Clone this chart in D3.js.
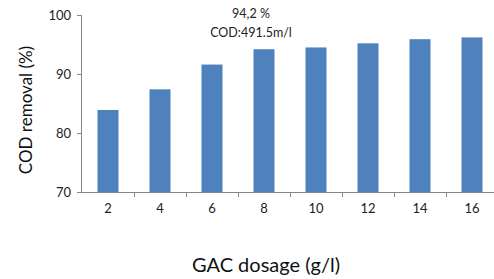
<!DOCTYPE html>
<html><head><meta charset="utf-8">
<script src="https://cdn.jsdelivr.net/npm/d3@7"></script>
<style>body{margin:0;background:#fff}svg{display:block}</style>
</head><body>
<script>
const categories = ["2","4","6","8","10","12","14","16"];
const values = [83.9, 87.4, 91.6, 94.2, 94.5, 95.2, 95.9, 96.2];
const yTicks = [70, 80, 90, 100];
const annotation = ["94,2 %", "COD:491.5m/l"];
const xTitle = "GAC dosage (g/l)";
const yTitle = "COD removal (%)";

const W = 494, H = 279;
const pLeft = 82, pRight = 498, pTop = 15, pBottom = 192;
const font = "Lato, 'Open Sans', sans-serif";
const svg = d3.select("body").append("svg").attr("width", W).attr("height", H);

const xb = d3.scaleBand().domain(categories).range([pLeft, pRight]);
const y = d3.scaleLinear().domain([70, 100]).range([pBottom, pTop]);

svg.selectAll("rect.bar").data(values).enter().append("rect")
  .attr("x", (d, i) => xb(categories[i]) + xb.bandwidth() / 2 - 10.5)
  .attr("width", 21)
  .attr("y", d => y(d))
  .attr("height", d => y(70) - y(d))
  .attr("fill", "#4F81BD");

const axisColor = "#868686";
// y axis
const yAxis = svg.append("g").attr("transform", `translate(${pLeft},0)`)
  .call(d3.axisLeft(y).tickValues(yTicks).tickSize(5).tickPadding(6));
yAxis.select(".domain").attr("stroke", axisColor).attr("d", `M-0.5,${pTop}V${pBottom}`);
yAxis.selectAll(".tick line").attr("stroke", axisColor);
yAxis.selectAll(".tick text").attr("font-family", font).attr("font-size", 13).attr("fill", "#222");

// x axis
const xAxis = svg.append("g").attr("transform", `translate(0,${pBottom})`)
  .call(d3.axisBottom(xb).tickSize(0).tickPadding(12));
xAxis.select(".domain").attr("stroke", axisColor).attr("d", `M${pLeft},0.5H${W}`);
xAxis.selectAll(".tick text").attr("font-family", font).attr("font-size", 13).attr("fill", "#222");
svg.append("g").selectAll("line").data(categories).enter().append("line")
  .attr("x1", d => Math.round(xb(d) + xb.bandwidth()) + 0.5)
  .attr("x2", d => Math.round(xb(d) + xb.bandwidth()) + 0.5)
  .attr("y1", pBottom).attr("y2", pBottom + 5)
  .attr("stroke", axisColor);

// titles
svg.append("text").attr("x", 266).attr("y", 272).attr("text-anchor", "middle")
  .attr("font-family", font).attr("font-size", 20).attr("fill", "#111").text(xTitle);
svg.append("text").attr("transform", `translate(32,110) rotate(-90)`)
  .attr("text-anchor", "middle")
  .attr("font-family", font).attr("font-size", 17).attr("fill", "#111").text(yTitle);

// annotation
svg.selectAll("text.ann").data(annotation).enter().append("text")
  .attr("x", 251).attr("y", (d, i) => 18 + i * 19)
  .attr("text-anchor", "middle")
  .attr("font-family", font).attr("font-size", 12.5).attr("fill", "#222").text(d => d);
</script>
</body></html>
